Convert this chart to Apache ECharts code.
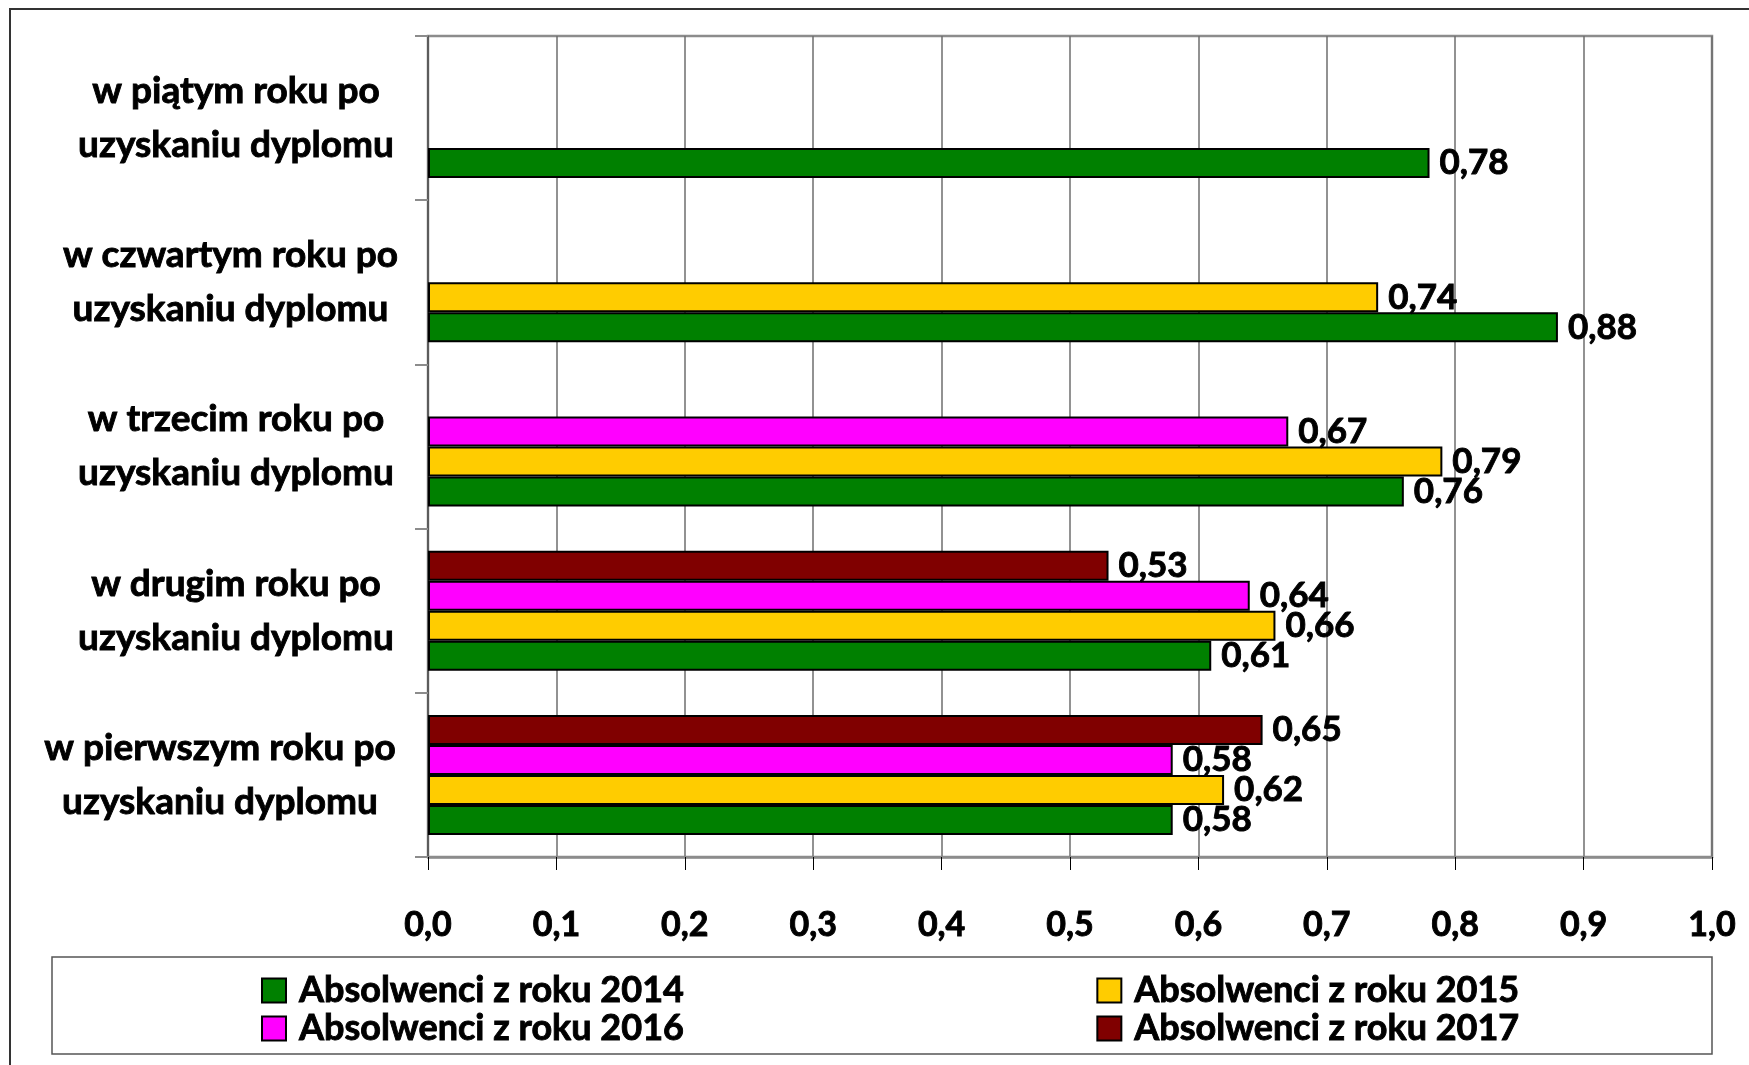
<!DOCTYPE html>
<html><head><meta charset="utf-8">
<script src="https://cdn.jsdelivr.net/npm/echarts@6/dist/echarts.min.js"></script>
<style>html,body{margin:0;padding:0;background:#fff}#c{width:1749px;height:1065px}</style>
</head><body><div id="c"></div>
<script>
const categories = [
  'w pierwszym roku po\nuzyskaniu dyplomu',
  'w drugim roku po\nuzyskaniu dyplomu',
  'w trzecim roku po\nuzyskaniu dyplomu',
  'w czwartym roku po\nuzyskaniu dyplomu',
  'w piątym roku po\nuzyskaniu dyplomu'
];
const seriesNames = ['Absolwenci z roku 2014', 'Absolwenci z roku 2015', 'Absolwenci z roku 2016', 'Absolwenci z roku 2017'];
const values2014 = [0.58, 0.61, 0.76, 0.88, 0.78];
const values2015 = [0.62, 0.66, 0.79, 0.74, null];
const values2016 = [0.58, 0.64, 0.67, null, null];
const values2017 = [0.65, 0.53, null, null, null];
const seriesColors = ['#008000', '#FFCC00', '#FF00FF', '#800000'];
const xMin = 0, xMax = 1, xStep = 0.1;

const FONT = 'Lato, "Open Sans", sans-serif';
const BOLDER = {textBorderColor: '#000', textBorderWidth: 0.9};
const allValues = [values2014, values2015, values2016, values2017];
// small per-label horizontal nudges (right padding) to follow the reference's label placement
const labelPadRight = [32, 0, 0, 11, 0];

const chart = echarts.init(document.getElementById('c'), null, {renderer: 'canvas'});
// ECharts stacks horizontal bar slots top-down in series order; the reference has 2014 at the bottom,
// so series are handed to the library in reverse order (legend order is set explicitly).
const series = allValues.map((vals, i) => ({
  name: seriesNames[i],
  type: 'bar',
  data: vals,
  barWidth: 30,
  barGap: '0%',
  itemStyle: {color: seriesColors[i], borderColor: '#000', borderWidth: 2},
  label: Object.assign({
    show: true, position: 'right', distance: 10,
    fontFamily: FONT, fontWeight: 'bold', fontSize: 35, color: '#000',
    formatter: p => p.value == null ? '' : p.value.toFixed(2).replace('.', ',')
  }, BOLDER),
  emphasis: {disabled: true},
  z: 3
})).reverse();

const legendCommon = {
  itemWidth: 24, itemHeight: 24, itemGap: 412, left: 261, padding: 0,
  icon: 'rect',
  textStyle: Object.assign({fontFamily: FONT, fontWeight: 'bold', fontSize: 36, color: '#000', width: 400, padding: [0, 0, 0, 8]}, BOLDER)
};

const yLabelStyle = Object.assign({
  align: 'center', fontFamily: FONT, fontWeight: 'bold', fontSize: 37, lineHeight: 54, color: '#000'
}, BOLDER);

chart.setOption({
  animation: false,
  backgroundColor: '#fff',
  grid: {left: 428, right: 37, top: 36, bottom: 208, show: true, borderColor: '#8c8c8c', borderWidth: 2.5,
         containLabel: false, outerBoundsMode: 'none'},
  xAxis: {
    type: 'value', min: xMin, max: xMax, interval: xStep,
    axisLine: {show: true, lineStyle: {color: '#8c8c8c', width: 2.5}},
    axisTick: {show: true, length: 13, lineStyle: {color: '#000', width: 1}},
    splitLine: {show: true, lineStyle: {color: '#6e6e6e', width: 1.5}},
    axisLabel: Object.assign({
      margin: 48, fontFamily: FONT, fontWeight: 'bold', fontSize: 34, color: '#000', lineHeight: 40,
      formatter: v => v.toFixed(1).replace('.', ',')
    }, BOLDER)
  },
  yAxis: {
    type: 'category',
    data: categories.map((c, i) => ({value: c, textStyle: Object.assign({}, yLabelStyle, {padding: [5, labelPadRight[i], 0, 0]})})),
    axisLine: {show: true, lineStyle: {color: '#555', width: 1.5}},
    axisTick: {show: true, length: 13, lineStyle: {color: '#8c8c8c', width: 2}},
    axisLabel: Object.assign({margin: 192, padding: [5, 0, 0, 0]}, yLabelStyle)
  },
  legend: [
    Object.assign({}, legendCommon, {top: 972, data: [seriesNames[0], seriesNames[1]]}),
    Object.assign({}, legendCommon, {top: 1010, data: [seriesNames[2], seriesNames[3]]})
  ],
  graphic: [
    {type: 'rect', shape: {x: 10, y: 9, width: 1800, height: 1100}, style: {fill: 'none', stroke: '#333', lineWidth: 2}, silent: true},
    {type: 'rect', shape: {x: 52, y: 957, width: 1660, height: 97}, style: {fill: 'none', stroke: '#555', lineWidth: 1.5}, silent: true}
  ],
  series: series
});
</script></body></html>
